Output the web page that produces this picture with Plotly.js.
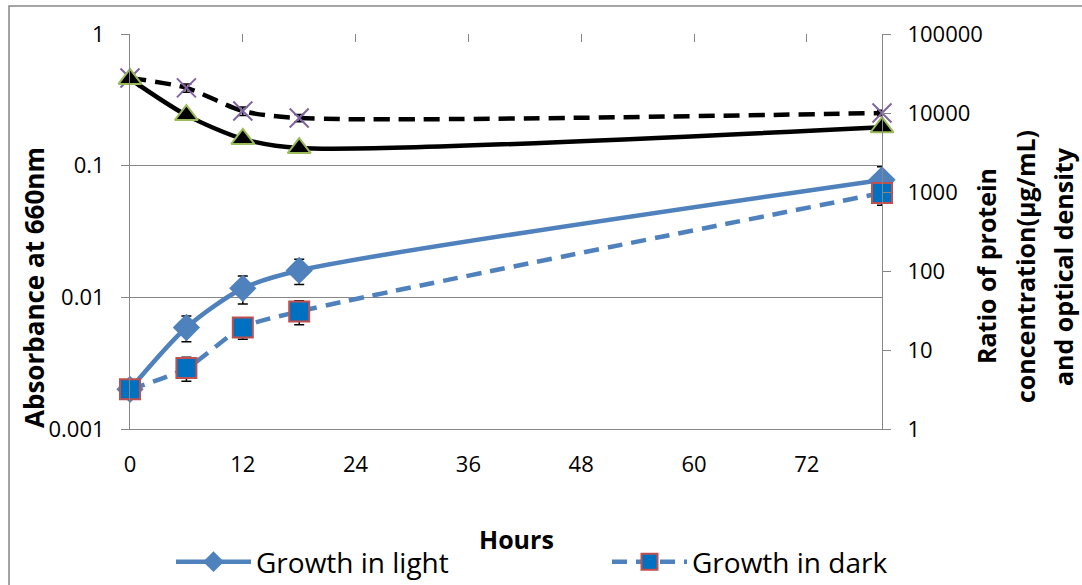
<!DOCTYPE html>
<html>
<head>
<meta charset="utf-8">
<script src="https://cdn.plot.ly/plotly-3.0.1.min.js"></script>
<style>html,body{margin:0;padding:0;background:#fff;}#chart{width:1082px;height:585px;}</style>
</head>
<body>
<div id="chart"></div>
<script>
// ---- data ----
const hours = [0, 6, 12, 18, 80];
const lightAbs = [0.002, 0.0059, 0.0117, 0.016, 0.078];
const lightErr = [0.0003, 0.0013, 0.0028, 0.0035, 0.02];
const darkAbs = [0.002, 0.0029, 0.0059, 0.0078, 0.062];
const darkErr = [0.0003, 0.0006, 0.0011, 0.0016, 0.012];
const ratioLight = [27000, 9400, 4700, 3600, 6600];
const ratioLightErr = [1000, 600, 300, 200, 400];
const ratioDark = [27700, 20800, 10600, 8650, 10000];
const ratioDarkErr = [1500, 2500, 1300, 900, 800];
const xTicks = [0, 12, 24, 36, 48, 60, 72];
const topTicks = [12, 24, 36, 48, 60, 72];
const leftTicks = [0.001, 0.01, 0.1, 1];
const leftTickText = ['0.001', '0.01', '0.1', '1'];
const rightTicks = [1, 10, 100, 1000, 10000, 100000];
const rightTickText = ['1', '10', '100', '1000', '10000', '100000'];
const seriesNames = ['Growth in light', 'Growth in dark'];

const FONT = 'Open Sans, Liberation Sans, sans-serif';
const GRID = '#868686';
const BLUE = '#4F81BD';
const errStyle = {color: '#000', thickness: 1.5, width: 5};

const traces = [
  {
    x: hours, y: ratioDark, yaxis: 'y2', type: 'scatter', mode: 'lines+markers',
    showlegend: false, cliponaxis: false,
    line: {color: '#000', width: 4.5, dash: '16px,9px', shape: 'spline', smoothing: 0.8},
    marker: {symbol: 'x-thin', size: 19, line: {color: '#8064A2', width: 2}},
    error_y: Object.assign({type: 'data', array: ratioDarkErr, visible: true}, errStyle)
  },
  {
    x: hours, y: ratioLight, yaxis: 'y2', type: 'scatter', mode: 'lines+markers',
    showlegend: false, cliponaxis: false,
    line: {color: '#000', width: 4.5, shape: 'spline', smoothing: 0.8},
    marker: {symbol: 'triangle-up', size: 20, color: '#000', line: {color: '#9BBB59', width: 2}},
    error_y: Object.assign({type: 'data', array: ratioLightErr, visible: true}, errStyle)
  },
  {
    x: hours, y: lightAbs, type: 'scatter', mode: 'lines+markers', name: seriesNames[0],
    cliponaxis: false, legend: 'legend',
    line: {color: BLUE, width: 4.5, shape: 'spline', smoothing: 0.8},
    marker: {symbol: 'diamond', size: 21, color: BLUE},
    error_y: Object.assign({type: 'data', array: lightErr, visible: true}, errStyle)
  },
  {
    x: hours, y: darkAbs, type: 'scatter', mode: 'lines+markers', name: seriesNames[1],
    cliponaxis: false, legend: 'legend2',
    line: {color: BLUE, width: 4.5, dash: '15px,9px', shape: 'spline', smoothing: 0.8},
    marker: {symbol: 'square', size: 20, color: '#0070C0', line: {color: '#C0504D', width: 2}},
    error_y: Object.assign({type: 'data', array: darkErr, visible: true}, errStyle)
  },
  {
    x: [], y: [], xaxis: 'x2', type: 'scatter', showlegend: false, hoverinfo: 'skip'
  }
];

const legendBase = {
  orientation: 'h', xref: 'container', yref: 'container',
  xanchor: 'left', y: 1 - 562 / 585, yanchor: 'middle',
  font: {family: FONT, size: 28}, itemwidth: 75,
  bgcolor: 'rgba(0,0,0,0)'
};

const layout = {
  width: 1082, height: 585,
  margin: {l: 130, r: 200, t: 34, b: 156},
  paper_bgcolor: '#fff', plot_bgcolor: '#fff',
  font: {family: FONT, color: '#000', size: 22},
  showlegend: true,
  xaxis: {
    range: [0, 80], tickvals: xTicks, ticktext: xTicks.map(String),
    showgrid: false, zeroline: false, showline: true, linecolor: GRID, linewidth: 1,
    ticks: '', tickfont: {family: FONT, size: 22}, ticklabelstandoff: 16,
    automargin: false
  },
  xaxis2: {
    overlaying: 'x', side: 'top', range: [0, 80], tickvals: topTicks,
    ticks: 'inside', ticklen: 8, tickcolor: GRID, tickwidth: 1,
    showticklabels: false, showgrid: false, zeroline: false, showline: false,
    automargin: false
  },
  yaxis: {
    type: 'log', range: [-3, 0], tickvals: leftTicks, ticktext: leftTickText,
    showgrid: true, gridcolor: GRID, gridwidth: 1, zeroline: false,
    showline: true, linecolor: GRID, linewidth: 1,
    ticks: 'outside', ticklen: 8, tickcolor: GRID,
    tickfont: {family: FONT, size: 22}, ticklabelstandoff: 12,
    automargin: false
  },
  yaxis2: {
    type: 'log', range: [0, 5], overlaying: 'y', side: 'right',
    tickvals: rightTicks, ticktext: rightTickText,
    showgrid: false, zeroline: false,
    showline: true, linecolor: GRID, linewidth: 1,
    ticks: 'outside', ticklen: 8, tickcolor: GRID,
    tickfont: {family: FONT, size: 22}, ticklabelstandoff: 12,
    automargin: false
  },
  legend: Object.assign({}, legendBase, {x: 171 / 1082}),
  legend2: Object.assign({}, legendBase, {x: 607 / 1082}),
  annotations: [
    {text: '<b>Hours</b>', xref: 'paper', yref: 'paper', x: (516 - 130) / 752, y: (429 - 539) / 395,
     xanchor: 'center', yanchor: 'middle', showarrow: false, font: {family: FONT, size: 25}},
    {text: '<b>Absorbance at 660nm</b>', xref: 'paper', yref: 'paper',
     x: (34 - 130) / 752, y: (429 - 288) / 395, xanchor: 'center', yanchor: 'middle',
     textangle: -90, showarrow: false, font: {family: FONT, size: 26}},
    {text: '<b>Ratio of protein</b>', xref: 'paper', yref: 'paper',
     x: (986 - 130) / 752, y: (429 - 266) / 395, xanchor: 'center', yanchor: 'middle',
     textangle: -90, showarrow: false, borderpad: 0, font: {family: FONT, size: 25}},
    {text: '<b>concentration(µg/mL)</b>', xref: 'paper', yref: 'paper',
     x: (1025 - 130) / 752, y: (429 - 267) / 395, xanchor: 'center', yanchor: 'middle',
     textangle: -90, showarrow: false, borderpad: 0, font: {family: FONT, size: 25}},
    {text: '<b>and optical density</b>', xref: 'paper', yref: 'paper',
     x: (1063 - 130) / 752, y: (429 - 267) / 395, xanchor: 'center', yanchor: 'middle',
     textangle: -90, showarrow: false, borderpad: 0, font: {family: FONT, size: 25}}
  ],
  shapes: [
    {type: 'rect', xref: 'paper', yref: 'paper',
     x0: (9 - 130) / 752, x1: (1095 - 130) / 752, y0: (429 - 600) / 395, y1: (429 - 6) / 395,
     line: {color: GRID, width: 1.5}, fillcolor: 'rgba(0,0,0,0)', layer: 'below'}
  ]
};

Plotly.newPlot('chart', traces, layout, {displayModeBar: false, staticPlot: true});
</script>
</body>
</html>
